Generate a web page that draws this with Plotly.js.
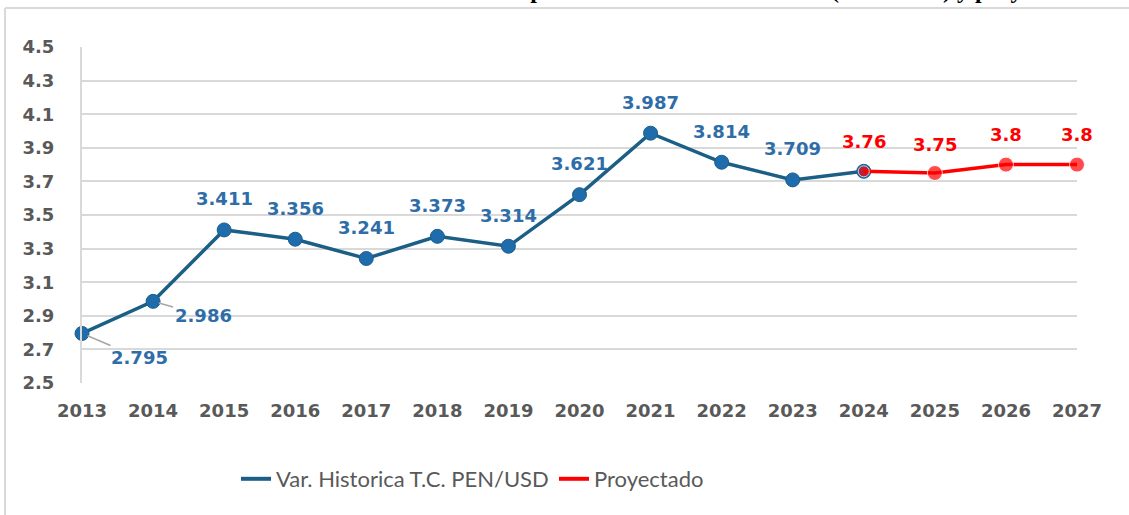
<!DOCTYPE html>
<html>
<head>
<meta charset="utf-8">
<script src="https://cdn.plot.ly/plotly-3.0.1.min.js"></script>
<style>html,body{margin:0;padding:0;background:#fff;}#chart{width:1129px;height:515px;}</style>
</head>
<body>
<div id="chart"></div>
<script>
// ---- data ----
const histYears = [2013, 2014, 2015, 2016, 2017, 2018, 2019, 2020, 2021, 2022, 2023, 2024];
const histValues = [2.795, 2.986, 3.411, 3.356, 3.241, 3.373, 3.314, 3.621, 3.987, 3.814, 3.709, 3.76];
const projYears = [2024, 2025, 2026, 2027];
const projValues = [3.76, 3.75, 3.8, 3.8];
const xTickYears = [2013, 2014, 2015, 2016, 2017, 2018, 2019, 2020, 2021, 2022, 2023, 2024, 2025, 2026, 2027];
const yTicks = [2.5, 2.7, 2.9, 3.1, 3.3, 3.5, 3.7, 3.9, 4.1, 4.3, 4.5];
const seriesNames = ['Var. Historica T.C. PEN/USD', 'Proyectado'];
const titleText = 'Tipo de cambio histórico anual (2013-2023) y proyectado';

// ---- layout helpers ----
const W = 1129, H = 515;
const M = {l: 82, r: 52, t: 47, b: 132};
const pw = W - M.l - M.r, ph = H - M.t - M.b;
const px2x = p => (p - M.l) / pw;
const px2y = p => (H - M.b - p) / ph;

const BLUE_LINE = '#1C5F86';
const BLUE_MARK = '#1E6CAC';
const BLUE_TXT = '#2E6DA8';
const RED = '#FF0000';
const GRID = '#d9d9d9';
const TICKC = '#595959';
const labelFont = {family: 'DejaVu Sans, Verdana, sans-serif', size: 18, weight: 'bold'};

const traces = [
  {
    x: histYears, y: histValues, type: 'scatter', mode: 'lines+markers',
    name: seriesNames[0], cliponaxis: false, showlegend: false,
    line: {color: BLUE_LINE, width: 3.5},
    marker: {color: BLUE_MARK, size: 14, line: {color: BLUE_LINE, width: 1}}
  },
  {
    x: projYears, y: projValues, type: 'scatter', mode: 'lines+markers',
    name: seriesNames[1], cliponaxis: false, showlegend: false,
    line: {color: RED, width: 3.5},
    marker: {color: RED, size: projYears.map((v, i) => i === 0 ? 11 : 15)}
  },
  // legend entries (line only, as in the reference legend)
  {x: [null], y: [null], type: 'scatter', mode: 'lines', name: seriesNames[0],
   line: {color: BLUE_LINE, width: 4}, hoverinfo: 'skip'},
  {x: [null], y: [null], type: 'scatter', mode: 'lines', name: seriesNames[1],
   line: {color: RED, width: 4}, hoverinfo: 'skip'}
];

const annotations = [];
histYears.forEach((yr, i) => {
  if (yr === 2024) return; // labelled by the projection
  const v = histValues[i];
  if (i < 2) {
    const off = i === 0 ? {ax: 57, ay: 24} : {ax: 50, ay: 14};
    annotations.push({
      x: yr, y: v, xref: 'x', yref: 'y', text: String(v),
      showarrow: true, arrowhead: 0, arrowwidth: 1.5, arrowcolor: '#a6a6a6',
      ax: off.ax, ay: off.ay, standoff: 6, font: Object.assign({color: BLUE_TXT}, labelFont)
    });
  } else {
    annotations.push({
      x: yr, y: v, xref: 'x', yref: 'y', text: String(v), showarrow: false,
      yanchor: 'middle', yshift: 31, font: Object.assign({color: BLUE_TXT}, labelFont)
    });
  }
});
projYears.forEach((yr, i) => {
  const v = projValues[i];
  annotations.push({
    x: yr, y: v, xref: 'x', yref: 'y', text: String(v), showarrow: false,
    yanchor: 'middle', yshift: i === 1 ? 29 : 30, font: Object.assign({color: RED}, labelFont)
  });
});
// title, cut off at the top edge as in the reference
annotations.push({
  x: px2x(507), y: px2y(4), xref: 'paper', yref: 'paper', xanchor: 'left', yanchor: 'bottom',
  text: titleText, showarrow: false, borderpad: 0,
  font: {family: 'Liberation Serif, Times New Roman, serif', size: 24, weight: 'bold', color: '#000'}
});

const shapes = [
  {type: 'line', xref: 'paper', yref: 'paper', x0: px2x(5), x1: px2x(1129), y0: px2y(8), y1: px2y(8),
   line: {color: GRID, width: 2}},
  {type: 'line', xref: 'paper', yref: 'paper', x0: px2x(5), x1: px2x(5), y0: px2y(8), y1: px2y(515),
   line: {color: GRID, width: 2}}
];

const layout = {
  width: W, height: H,
  margin: M,
  paper_bgcolor: '#fff', plot_bgcolor: '#fff',
  showlegend: true,
  legend: {
    orientation: 'h', x: px2x(236), xanchor: 'left', y: px2y(479), yanchor: 'middle',
    font: {family: 'Lato, Liberation Sans, sans-serif', size: 22, color: TICKC},
    itemwidth: 30, entrywidth: 273, entrywidthmode: 'pixels', tracegroupgap: 0
  },
  xaxis: {
    type: 'linear', range: [2013, 2027], tickmode: 'array', tickvals: xTickYears,
    ticktext: xTickYears.map(String), showgrid: false, zeroline: false, showline: false,
    ticks: '', ticklabelstandoff: 15,
    tickfont: {family: 'DejaVu Sans, Verdana, sans-serif', size: 18, weight: 'bold', color: TICKC}
  },
  yaxis: {
    range: [2.5, 4.5], tickmode: 'array', tickvals: yTicks, ticktext: yTicks.map(v => v.toFixed(1)),
    showgrid: true, gridcolor: GRID, gridwidth: 2, zeroline: false,
    showline: true, linecolor: GRID, linewidth: 2,
    ticks: '', ticklabelstandoff: 22,
    tickfont: {family: 'DejaVu Sans, Verdana, sans-serif', size: 18, weight: 'bold', color: TICKC}
  },
  annotations: annotations,
  shapes: shapes
};

Plotly.newPlot('chart', traces, layout, {displayModeBar: false, staticPlot: true});
</script>
</body>
</html>
